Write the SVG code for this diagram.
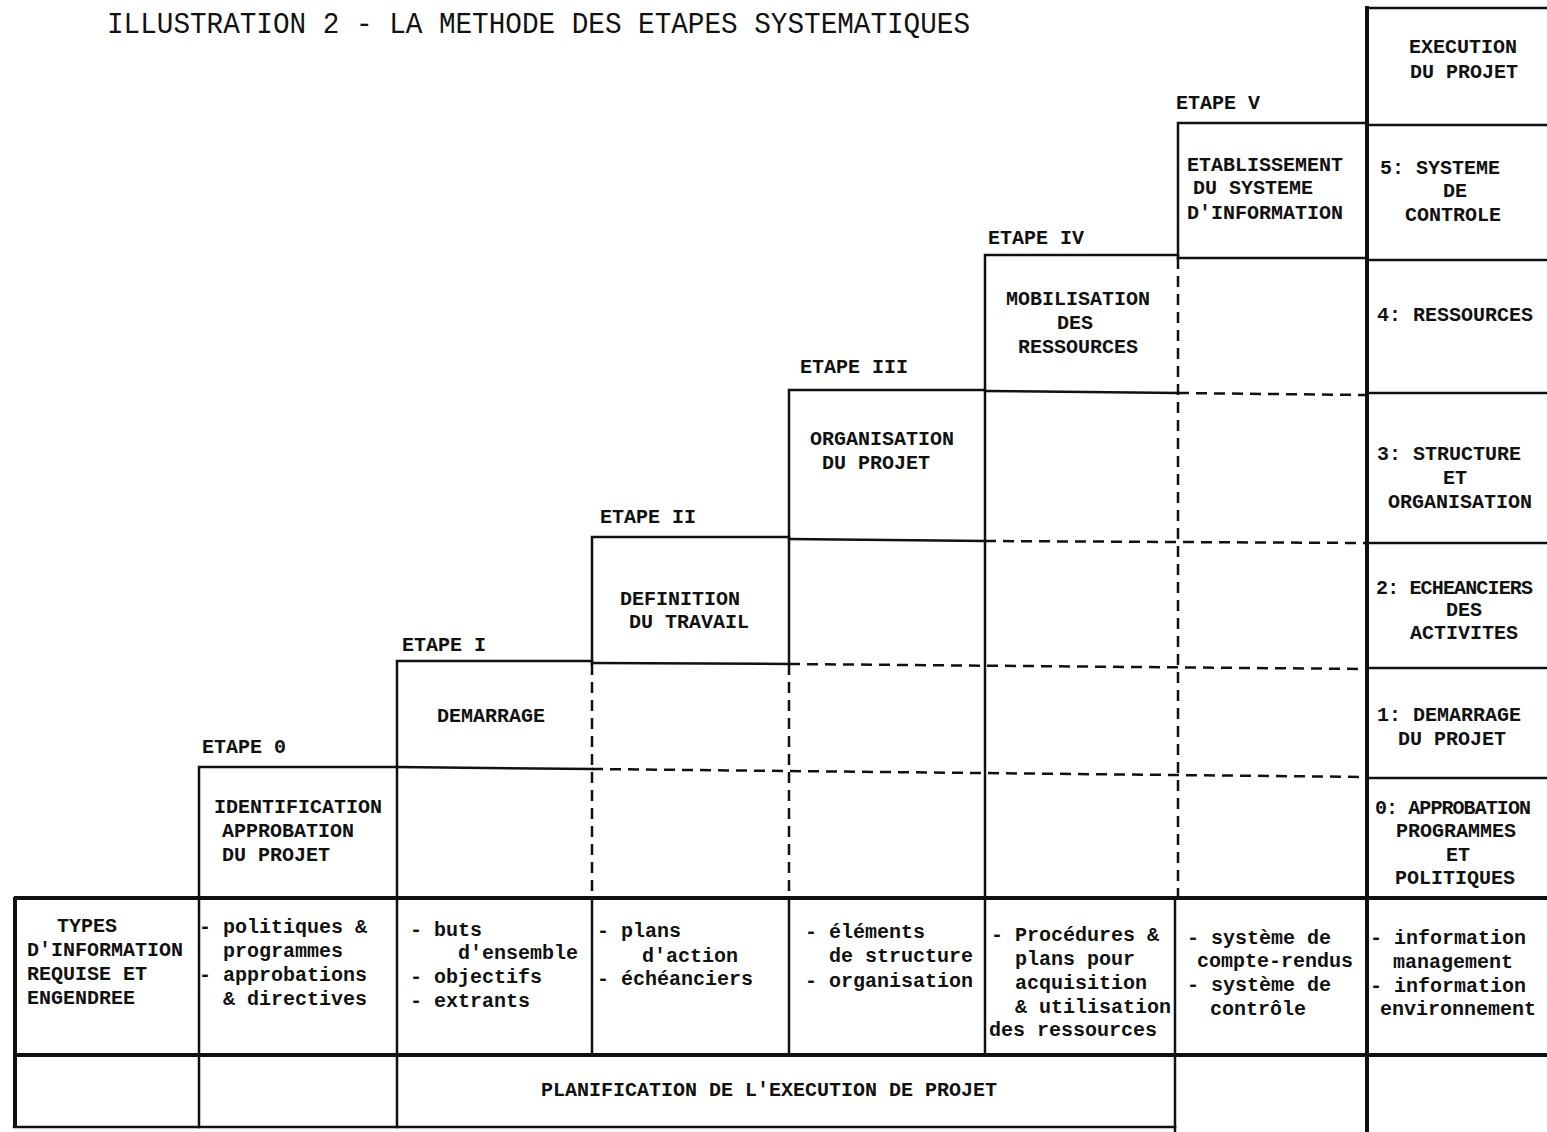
<svg xmlns="http://www.w3.org/2000/svg" width="1547" height="1132" viewBox="0 0 1547 1132">
<style>
  .bg{fill:#ffffff}
  .ln{stroke:#111;stroke-width:2.5;fill:none;stroke-linecap:square}
  .thk{stroke:#111;stroke-width:4;fill:none}
  .dsh{stroke:#111;stroke-width:2.5;fill:none;stroke-dasharray:11 7}
  .t{font-family:"Liberation Mono","DejaVu Sans Mono",monospace;font-size:20px;font-weight:bold;fill:#111}
  .b{font-family:"Liberation Mono","DejaVu Sans Mono",monospace;font-size:20px;font-weight:bold;fill:#111}
  .ttl{font-family:"Liberation Mono","DejaVu Sans Mono",monospace;font-size:30px;fill:#111}
</style>
<rect class="bg" x="0" y="0" width="1547" height="1132"/>

<g id="title">
  <text class="ttl" x="107" y="33" textLength="863" lengthAdjust="spacingAndGlyphs">ILLUSTRATION 2 - LA METHODE DES ETAPES SYSTEMATIQUES</text>
</g>

<g id="connectors">
  <!-- dashed row boundaries -->
  <line class="dsh" x1="592" y1="769" x2="1367" y2="777"/>
  <line class="dsh" x1="789" y1="664" x2="1367" y2="669"/>
  <line class="dsh" x1="985" y1="541" x2="1367" y2="543"/>
  <line class="dsh" x1="1178" y1="393" x2="1367" y2="395"/>
  <!-- dashed column lines -->
  <line class="dsh" x1="592" y1="664" x2="592" y2="898"/>
  <line class="dsh" x1="789" y1="664" x2="789" y2="898"/>
  <line class="dsh" x1="1178" y1="258" x2="1178" y2="898"/>
</g>

<g id="etape0">
  <path class="ln" d="M199,1127 V767 H397"/>
  <text class="t" x="202" y="753">ETAPE 0</text>
  <text class="t" x="214" y="813">IDENTIFICATION</text>
  <text class="t" x="222" y="837">APPROBATION</text>
  <text class="t" x="222" y="861">DU PROJET</text>
</g>

<g id="etape1">
  <path class="ln" d="M397,1127 V661 H592"/>
  <line class="ln" x1="397" y1="767" x2="592" y2="769"/>
  <text class="t" x="402" y="651">ETAPE I</text>
  <text class="t" x="437" y="722">DEMARRAGE</text>
</g>

<g id="etape2">
  <path class="ln" d="M592,664 V537 H789"/>
  <line class="ln" x1="592" y1="898" x2="592" y2="1055"/>
  <line class="ln" x1="592" y1="663" x2="789" y2="664"/>
  <text class="t" x="600" y="523">ETAPE II</text>
  <text class="t" x="620" y="605">DEFINITION</text>
  <text class="t" x="629" y="628">DU TRAVAIL</text>
</g>

<g id="etape3">
  <path class="ln" d="M789,664 V390 H985"/>
  <line class="ln" x1="789" y1="898" x2="789" y2="1055"/>
  <line class="ln" x1="789" y1="539" x2="985" y2="541"/>
  <text class="t" x="800" y="373">ETAPE III</text>
  <text class="t" x="810" y="445">ORGANISATION</text>
  <text class="t" x="822" y="469">DU PROJET</text>
</g>

<g id="etape4">
  <path class="ln" d="M985,1055 V255 H1178"/>
  <line class="ln" x1="985" y1="391" x2="1178" y2="393"/>
  <text class="t" x="988" y="244">ETAPE IV</text>
  <text class="t" x="1006" y="305">MOBILISATION</text>
  <text class="t" x="1057" y="329">DES</text>
  <text class="t" x="1018" y="353">RESSOURCES</text>
</g>

<g id="etape5">
  <path class="ln" d="M1178,258 V123 H1367"/>
  <line class="ln" x1="1175" y1="898" x2="1175" y2="1132"/>
  <line class="ln" x1="1178" y1="258" x2="1367" y2="258"/>
  <text class="t" x="1176" y="109">ETAPE V</text>
  <text class="t" x="1187" y="171">ETABLISSEMENT</text>
  <text class="t" x="1193" y="194">DU SYSTEME</text>
  <text class="t" x="1187" y="219">D'INFORMATION</text>
</g>

<g id="execution">
  <line class="thk" x1="1367" y1="6" x2="1367" y2="1132"/>
  <line class="ln" x1="1367" y1="8" x2="1547" y2="8"/>
  <line class="ln" x1="1367" y1="125" x2="1547" y2="125"/>
  <line class="ln" x1="1367" y1="260" x2="1547" y2="260"/>
  <line class="ln" x1="1367" y1="393" x2="1547" y2="393"/>
  <line class="ln" x1="1367" y1="543" x2="1547" y2="543"/>
  <line class="ln" x1="1367" y1="668" x2="1547" y2="668"/>
  <line class="ln" x1="1367" y1="778" x2="1547" y2="778"/>
  <text class="t" x="1409" y="53">EXECUTION</text>
  <text class="t" x="1410" y="78">DU PROJET</text>
  <text class="t" x="1380" y="174">5:  SYSTEME</text>
  <text class="t" x="1443" y="197">DE</text>
  <text class="t" x="1405" y="221">CONTROLE</text>
  <text class="t" x="1377" y="321">4: RESSOURCES</text>
  <text class="t" x="1377" y="460">3:  STRUCTURE</text>
  <text class="t" x="1443" y="484">ET</text>
  <text class="t" x="1388" y="508">ORGANISATION</text>
  <text class="t" x="1376" y="594" textLength="157">2: ECHEANCIERS</text>
  <text class="t" x="1446" y="616">DES</text>
  <text class="t" x="1410" y="639">ACTIVITES</text>
  <text class="t" x="1377" y="721">1:  DEMARRAGE</text>
  <text class="t" x="1398" y="745">DU PROJET</text>
  <text class="t" x="1375" y="814" textLength="156">0: APPROBATION</text>
  <text class="t" x="1396" y="837">PROGRAMMES</text>
  <text class="t" x="1446" y="861">ET</text>
  <text class="t" x="1395" y="884">POLITIQUES</text>
</g>

<g id="table">
  <line class="thk" x1="14" y1="898" x2="1547" y2="898"/>
  <line class="thk" x1="14" y1="1055" x2="1547" y2="1055"/>
  <line class="ln" x1="14" y1="1127" x2="1175" y2="1127"/>
  <line class="thk" x1="15" y1="897" x2="15" y2="1128"/>
</g>

<g id="row-types">
  <text class="b" x="57" y="932">TYPES</text>
  <text class="b" x="27" y="956">D'INFORMATION</text>
  <text class="b" x="27" y="980">REQUISE ET</text>
  <text class="b" x="27" y="1004">ENGENDREE</text>
</g>
<g id="info-etape0">
  <text class="b" x="199" y="933">- politiques &amp;</text>
  <text class="b" x="223" y="957">programmes</text>
  <text class="b" x="199" y="981">- approbations</text>
  <text class="b" x="223" y="1005">&amp; directives</text>
</g>
<g id="info-etape1">
  <text class="b" x="410" y="936">- buts</text>
  <text class="b" x="458" y="959">d'ensemble</text>
  <text class="b" x="410" y="983">- objectifs</text>
  <text class="b" x="410" y="1007">- extrants</text>
</g>
<g id="info-etape2">
  <text class="b" x="597" y="937">- plans</text>
  <text class="b" x="642" y="962">d'action</text>
  <text class="b" x="597" y="985">- échéanciers</text>
</g>
<g id="info-etape3">
  <text class="b" x="805" y="938">- éléments</text>
  <text class="b" x="829" y="962">de structure</text>
  <text class="b" x="805" y="987">- organisation</text>
</g>
<g id="info-etape4">
  <text class="b" x="991" y="941">- Procédures &amp;</text>
  <text class="b" x="1015" y="965">plans pour</text>
  <text class="b" x="1015" y="989">acquisition</text>
  <text class="b" x="1015" y="1013">&amp; utilisation</text>
  <text class="b" x="989" y="1036">des ressources</text>
</g>
<g id="info-etape5">
  <text class="b" x="1187" y="944">- système de</text>
  <text class="b" x="1197" y="967">compte-rendus</text>
  <text class="b" x="1187" y="991">- système de</text>
  <text class="b" x="1210" y="1015">contrôle</text>
</g>
<g id="info-execution">
  <text class="b" x="1370" y="944">- information</text>
  <text class="b" x="1393" y="968">management</text>
  <text class="b" x="1370" y="992">- information</text>
  <text class="b" x="1380" y="1015">environnement</text>
</g>
<g id="planification">
  <text class="b" x="541" y="1096">PLANIFICATION DE L'EXECUTION DE PROJET</text>
</g>
</svg>
